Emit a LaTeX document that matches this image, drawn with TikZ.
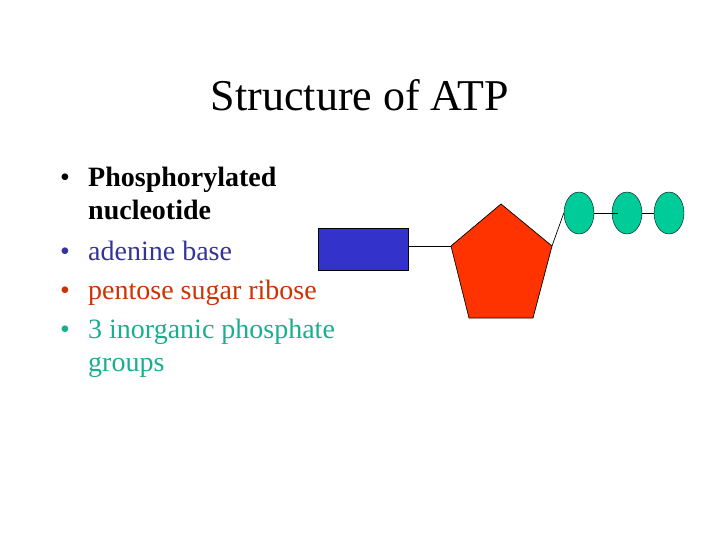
\documentclass[tikz,border=0pt]{standalone}
\usepackage{fontspec}
\setmainfont{Liberation Serif}
\usepackage{xcolor}
\usetikzlibrary{shapes.geometric}

\definecolor{adenineblue}{HTML}{3333CC}
\definecolor{riboseorange}{HTML}{FF3300}
\definecolor{phosgreen}{HTML}{00CC99}
\definecolor{textblue}{HTML}{333399}
\definecolor{textred}{HTML}{CC3300}
\definecolor{textgreen}{HTML}{1AAE90}

\begin{document}
\begin{tikzpicture}[x=1pt, y=-1pt,
  itemtext/.style={anchor=base west, inner sep=0pt, align=left, font=\fontsize{28}{33}\selectfont},
  bulletmark/.style={anchor=base west, inner sep=0pt, font=\fontsize{28}{33}\selectfont},
  phosphate/.style={ellipse, draw=black, fill=phosgreen, minimum width=30pt, minimum height=42pt, inner sep=0pt},
  bond/.style={draw=black, line width=0.7pt}]
\useasboundingbox (0,0) rectangle (720,540);

% title
\node[anchor=base, inner sep=0pt, font=\fontsize{44}{50}\selectfont] (title) at (360,111) {Structure of ATP};

% bullet list (base of a two-line node = last line)
\node[itemtext] (nucleotide) at (88,220) {\textbf{Phosphorylated}\\\textbf{nucleotide}};
\node[itemtext, text=textblue] (base) at (88,260) {adenine base};
\node[itemtext, text=textred] (sugar) at (88,299) {pentose sugar ribose};
\node[itemtext, text=textgreen] (groups) at (88,371) {3 inorganic phosphate\\groups};
\node[bulletmark] (b1) at (60,187) {•};
\node[bulletmark, text=textblue] (b2) at (60,260) {•};
\node[bulletmark, text=textred] (b3) at (60,299) {•};
\node[bulletmark, text=textgreen] (b4) at (60,338) {•};

% adenine
\node[draw=black, fill=adenineblue, minimum width=90pt, minimum height=42pt, inner sep=0pt] (adenine) at (363,249) {};

% ribose
\coordinate (r-top) at (501,204);
\coordinate (r-left) at (451,246);
\coordinate (r-right) at (552,246);
\coordinate (r-bl) at (469,318);
\coordinate (r-br) at (533,318);
\draw[fill=riboseorange, line width=0.7pt, line join=miter] (r-top) -- (r-right) -- (r-br) -- (r-bl) -- (r-left) -- cycle;

% phosphates
\node[phosphate] (ph1) at (579,213) {};
\node[phosphate] (ph2) at (627,213) {};
\node[phosphate] (ph3) at (669,213) {};

\draw[bond] ([yshift=3pt]adenine.east) -- (r-left);
\draw[bond] (r-right) -- (ph1.west);
\draw[bond] (ph1.east) -- ([xshift=-9pt]ph2.center);
\draw[bond] (ph2.east) -- (ph3.west);
\end{tikzpicture}
\end{document}
